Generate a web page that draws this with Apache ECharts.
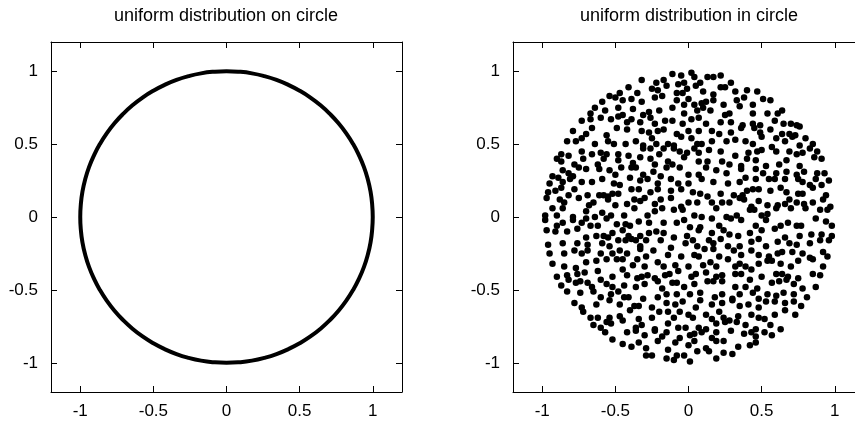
<!DOCTYPE html>
<html>
<head>
<meta charset="utf-8">
<script src="https://cdn.jsdelivr.net/npm/echarts@6/dist/echarts.min.js"></script>
<style>
  html, body { margin: 0; padding: 0; background: #fff; }
  #chart { width: 855px; height: 423px; }
</style>
</head>
<body>
<div id="chart"></div>
<script>
const titles = ['uniform distribution on circle', 'uniform distribution in circle'];
const tickValues = [-1, -0.5, 0, 0.5, 1];
const axisMin = -1.2;
const axisMax = 1.2;

// left panel: points on the unit circle, read every 5 degrees
const circlePoints = [
  [1, 0], [0.996, 0.087], [0.985, 0.174], [0.966, 0.259], [0.94, 0.342], [0.906, 0.423],
  [0.866, 0.5], [0.819, 0.574], [0.766, 0.643], [0.707, 0.707], [0.643, 0.766], [0.574, 0.819],
  [0.5, 0.866], [0.423, 0.906], [0.342, 0.94], [0.259, 0.966], [0.174, 0.985], [0.087, 0.996],
  [0, 1], [-0.087, 0.996], [-0.174, 0.985], [-0.259, 0.966], [-0.342, 0.94], [-0.423, 0.906],
  [-0.5, 0.866], [-0.574, 0.819], [-0.643, 0.766], [-0.707, 0.707], [-0.766, 0.643], [-0.819, 0.574],
  [-0.866, 0.5], [-0.906, 0.423], [-0.94, 0.342], [-0.966, 0.259], [-0.985, 0.174], [-0.996, 0.087],
  [-1, 0], [-0.996, -0.087], [-0.985, -0.174], [-0.966, -0.259], [-0.94, -0.342], [-0.906, -0.423],
  [-0.866, -0.5], [-0.819, -0.574], [-0.766, -0.643], [-0.707, -0.707], [-0.643, -0.766], [-0.574, -0.819],
  [-0.5, -0.866], [-0.423, -0.906], [-0.342, -0.94], [-0.259, -0.966], [-0.174, -0.985], [-0.087, -0.996],
  [0, -1], [0.087, -0.996], [0.174, -0.985], [0.259, -0.966], [0.342, -0.94], [0.423, -0.906],
  [0.5, -0.866], [0.574, -0.819], [0.643, -0.766], [0.707, -0.707], [0.766, -0.643], [0.819, -0.574],
  [0.866, -0.5], [0.906, -0.423], [0.94, -0.342], [0.966, -0.259], [0.985, -0.174], [0.996, -0.087],
  [1, 0]
];

// right panel: points filling the unit disc (estimated, row by row from the bottom)
const discPoints = [
  [-0.29,-0.95],[-0.25,-0.95],[-0.15,-0.97],[-0.08,-0.95],[-0.03,-0.95],[0.06,-0.92],[0.14,-0.92],[0.19,-0.97],[0.24,-0.93],[0.30,-0.94],[0.01,-0.99],[-0.10,-0.98],
  [-0.45,-0.87],[-0.39,-0.89],[-0.34,-0.86],[-0.29,-0.90],[-0.21,-0.85],[-0.14,-0.91],[-0.09,-0.86],[0.00,-0.88],[0.04,-0.85],[0.12,-0.90],[0.19,-0.85],[0.24,-0.85],[0.34,-0.89],[0.42,-0.88],[0.46,-0.86],
  [-0.57,-0.79],[-0.52,-0.84],[-0.42,-0.79],[-0.36,-0.78],[-0.30,-0.81],[-0.23,-0.78],[-0.18,-0.82],[-0.15,-0.79],[-0.06,-0.83],[0.01,-0.81],[0.04,-0.80],[0.09,-0.79],[0.16,-0.83],[0.19,-0.79],[0.29,-0.78],[0.38,-0.80],[0.43,-0.79],[0.46,-0.82],[0.52,-0.79],[0.57,-0.81],
  [-0.65,-0.74],[-0.60,-0.76],[-0.56,-0.72],[-0.53,-0.73],[-0.45,-0.71],[-0.36,-0.76],[-0.32,-0.74],[-0.23,-0.77],[-0.14,-0.73],[-0.07,-0.76],[-0.02,-0.76],[0.07,-0.76],[0.12,-0.77],[0.19,-0.73],[0.25,-0.72],[0.28,-0.71],[0.33,-0.72],[0.39,-0.74],[0.46,-0.77],[0.56,-0.74],[0.63,-0.77],
  [-0.72,-0.65],[-0.67,-0.69],[-0.62,-0.69],[-0.54,-0.69],[-0.47,-0.68],[-0.40,-0.64],[-0.34,-0.70],[-0.25,-0.69],[-0.20,-0.65],[-0.14,-0.65],[-0.10,-0.69],[-0.06,-0.65],[0.00,-0.67],[0.03,-0.69],[0.12,-0.67],[0.16,-0.70],[0.21,-0.65],[0.24,-0.69],[0.34,-0.68],[0.43,-0.67],[0.48,-0.69],[0.52,-0.70],[0.59,-0.67],[0.66,-0.64],[0.73,-0.67],
  [-0.78,-0.59],[-0.73,-0.62],[-0.63,-0.60],[-0.54,-0.57],[-0.47,-0.60],[-0.37,-0.61],[-0.34,-0.61],[-0.25,-0.62],[-0.15,-0.59],[-0.09,-0.60],[-0.04,-0.58],[0.05,-0.62],[0.08,-0.57],[0.16,-0.60],[0.23,-0.59],[0.30,-0.57],[0.35,-0.61],[0.41,-0.60],[0.48,-0.62],[0.53,-0.58],[0.59,-0.58],[0.66,-0.59],[0.72,-0.58],[0.77,-0.61],
  [-0.83,-0.51],[-0.74,-0.52],[-0.65,-0.51],[-0.60,-0.55],[-0.53,-0.53],[-0.48,-0.51],[-0.44,-0.55],[-0.41,-0.55],[-0.31,-0.56],[-0.21,-0.55],[-0.15,-0.53],[-0.08,-0.53],[0.01,-0.53],[0.08,-0.52],[0.18,-0.55],[0.23,-0.53],[0.30,-0.56],[0.35,-0.53],[0.44,-0.52],[0.48,-0.56],[0.54,-0.53],[0.60,-0.54],[0.65,-0.52],[0.72,-0.53],[0.81,-0.55],
  [-0.87,-0.47],[-0.82,-0.43],[-0.77,-0.45],[-0.74,-0.44],[-0.69,-0.45],[-0.66,-0.48],[-0.60,-0.43],[-0.56,-0.46],[-0.52,-0.48],[-0.44,-0.47],[-0.36,-0.48],[-0.30,-0.46],[-0.21,-0.44],[-0.18,-0.49],[-0.11,-0.45],[-0.08,-0.45],[-0.03,-0.48],[0.04,-0.46],[0.13,-0.44],[0.17,-0.44],[0.23,-0.44],[0.32,-0.48],[0.39,-0.48],[0.42,-0.43],[0.47,-0.49],[0.57,-0.45],[0.62,-0.44],[0.67,-0.43],[0.72,-0.46],[0.78,-0.49],[0.87,-0.48],
  [-0.90,-0.41],[-0.83,-0.40],[-0.76,-0.39],[-0.71,-0.38],[-0.62,-0.37],[-0.52,-0.41],[-0.45,-0.36],[-0.42,-0.40],[-0.35,-0.42],[-0.32,-0.41],[-0.28,-0.40],[-0.23,-0.42],[-0.16,-0.40],[-0.13,-0.39],[-0.07,-0.37],[0.02,-0.41],[0.05,-0.39],[0.12,-0.38],[0.19,-0.41],[0.23,-0.40],[0.32,-0.39],[0.36,-0.39],[0.43,-0.36],[0.50,-0.41],[0.60,-0.39],[0.64,-0.39],[0.68,-0.41],[0.75,-0.42],[0.85,-0.39],[0.90,-0.40],
  [-0.93,-0.32],[-0.85,-0.34],[-0.77,-0.35],[-0.70,-0.31],[-0.63,-0.30],[-0.56,-0.29],[-0.49,-0.29],[-0.45,-0.29],[-0.38,-0.33],[-0.35,-0.29],[-0.30,-0.34],[-0.21,-0.31],[-0.17,-0.34],[-0.09,-0.33],[0.00,-0.34],[0.10,-0.33],[0.15,-0.31],[0.19,-0.34],[0.27,-0.29],[0.32,-0.34],[0.35,-0.32],[0.39,-0.34],[0.48,-0.32],[0.54,-0.30],[0.57,-0.30],[0.63,-0.32],[0.70,-0.34],[0.75,-0.30],[0.85,-0.29],[0.92,-0.34],
  [-0.95,-0.25],[-0.85,-0.25],[-0.78,-0.23],[-0.73,-0.25],[-0.69,-0.23],[-0.60,-0.25],[-0.52,-0.25],[-0.47,-0.23],[-0.42,-0.25],[-0.33,-0.22],[-0.29,-0.27],[-0.24,-0.23],[-0.14,-0.26],[-0.05,-0.27],[0.04,-0.26],[0.07,-0.27],[0.11,-0.22],[0.17,-0.22],[0.21,-0.27],[0.31,-0.23],[0.36,-0.26],[0.43,-0.23],[0.48,-0.26],[0.55,-0.27],[0.61,-0.25],[0.64,-0.24],[0.71,-0.24],[0.78,-0.25],[0.83,-0.28],[0.92,-0.24],[0.95,-0.27],
  [-0.96,-0.19],[-0.86,-0.18],[-0.76,-0.18],[-0.69,-0.19],[-0.59,-0.18],[-0.54,-0.20],[-0.48,-0.16],[-0.43,-0.16],[-0.39,-0.15],[-0.36,-0.16],[-0.33,-0.20],[-0.29,-0.16],[-0.19,-0.16],[-0.12,-0.21],[-0.02,-0.18],[0.03,-0.16],[0.06,-0.20],[0.14,-0.16],[0.17,-0.18],[0.22,-0.15],[0.27,-0.20],[0.35,-0.20],[0.43,-0.17],[0.48,-0.15],[0.53,-0.20],[0.61,-0.17],[0.69,-0.18],[0.74,-0.19],[0.83,-0.18],[0.90,-0.16],[0.96,-0.16],
  [-0.97,-0.09],[-0.91,-0.10],[-0.83,-0.10],[-0.76,-0.08],[-0.70,-0.14],[-0.63,-0.13],[-0.58,-0.13],[-0.55,-0.14],[-0.52,-0.11],[-0.45,-0.09],[-0.41,-0.13],[-0.33,-0.13],[-0.27,-0.11],[-0.22,-0.10],[-0.17,-0.11],[-0.10,-0.14],[-0.01,-0.13],[0.07,-0.09],[0.16,-0.11],[0.24,-0.09],[0.28,-0.12],[0.34,-0.13],[0.42,-0.11],[0.50,-0.09],[0.59,-0.08],[0.66,-0.14],[0.76,-0.13],[0.84,-0.12],[0.91,-0.12],[0.98,-0.13],
  [-0.98,-0.02],[-0.90,-0.06],[-0.86,-0.04],[-0.79,-0.02],[-0.73,-0.04],[-0.70,-0.01],[-0.67,-0.06],[-0.62,-0.06],[-0.56,-0.01],[-0.49,-0.05],[-0.43,-0.05],[-0.40,-0.06],[-0.34,-0.03],[-0.27,-0.04],[-0.17,-0.04],[-0.08,-0.04],[-0.03,-0.02],[0.01,-0.07],[0.08,-0.07],[0.16,-0.01],[0.21,-0.06],[0.29,-0.01],[0.36,-0.02],[0.46,-0.06],[0.53,-0.02],[0.63,-0.06],[0.68,-0.04],[0.74,-0.06],[0.77,-0.06],[0.87,-0.01],[0.94,-0.03],[0.98,-0.06],
  [-0.98,0.01],[-0.93,0.06],[-0.90,0.01],[-0.86,0.06],[-0.79,0.00],[-0.70,0.04],[-0.64,0.00],[-0.59,0.03],[-0.53,0.01],[-0.44,0.01],[-0.37,0.06],[-0.28,0.01],[-0.23,0.04],[-0.18,0.06],[-0.10,0.05],[-0.04,0.05],[0.04,0.01],[0.09,0.00],[0.19,0.06],[0.26,0.00],[0.33,0.01],[0.42,0.05],[0.45,0.05],[0.50,0.01],[0.54,0.02],[0.60,0.06],[0.70,0.06],[0.80,0.06],[0.90,0.05],[0.95,0.05],
  [-0.97,0.13],[-0.88,0.12],[-0.85,0.10],[-0.75,0.13],[-0.68,0.08],[-0.65,0.10],[-0.55,0.12],[-0.50,0.08],[-0.42,0.09],[-0.37,0.12],[-0.33,0.11],[-0.30,0.13],[-0.23,0.09],[-0.19,0.12],[-0.12,0.13],[-0.05,0.07],[0.00,0.10],[0.06,0.10],[0.16,0.10],[0.23,0.10],[0.28,0.10],[0.35,0.13],[0.38,0.12],[0.43,0.07],[0.48,0.11],[0.54,0.08],[0.61,0.08],[0.66,0.09],[0.69,0.12],[0.74,0.10],[0.79,0.09],[0.85,0.10],[0.92,0.12],[0.97,0.07],
  [-0.96,0.17],[-0.91,0.18],[-0.87,0.20],[-0.82,0.15],[-0.78,0.19],[-0.69,0.15],[-0.61,0.15],[-0.58,0.15],[-0.55,0.14],[-0.52,0.16],[-0.48,0.16],[-0.39,0.19],[-0.34,0.19],[-0.26,0.17],[-0.21,0.19],[-0.12,0.18],[-0.05,0.19],[0.03,0.17],[0.08,0.16],[0.13,0.14],[0.22,0.16],[0.31,0.15],[0.37,0.15],[0.40,0.18],[0.44,0.19],[0.48,0.19],[0.56,0.18],[0.63,0.20],[0.67,0.17],[0.75,0.16],[0.78,0.16],[0.85,0.20],[0.94,0.15],
  [-0.95,0.23],[-0.89,0.27],[-0.86,0.24],[-0.81,0.26],[-0.73,0.24],[-0.66,0.24],[-0.59,0.26],[-0.51,0.23],[-0.47,0.22],[-0.40,0.27],[-0.33,0.25],[-0.28,0.26],[-0.21,0.23],[-0.12,0.26],[-0.07,0.23],[0.00,0.23],[0.09,0.26],[0.17,0.24],[0.27,0.23],[0.35,0.24],[0.39,0.27],[0.46,0.26],[0.55,0.26],[0.59,0.26],[0.66,0.26],[0.75,0.26],[0.78,0.24],[0.83,0.22],[0.87,0.26],[0.91,0.22],[0.96,0.25],
  [-0.93,0.28],[-0.86,0.32],[-0.82,0.30],[-0.79,0.28],[-0.75,0.34],[-0.70,0.33],[-0.61,0.33],[-0.54,0.32],[-0.50,0.29],[-0.46,0.34],[-0.39,0.34],[-0.36,0.34],[-0.31,0.29],[-0.24,0.31],[-0.19,0.28],[-0.15,0.34],[-0.06,0.34],[0.00,0.29],[0.07,0.29],[0.12,0.34],[0.19,0.32],[0.26,0.30],[0.36,0.33],[0.46,0.33],[0.51,0.30],[0.60,0.30],[0.67,0.31],[0.74,0.29],[0.79,0.31],[0.88,0.30],[0.93,0.30],
  [-0.90,0.40],[-0.87,0.38],[-0.78,0.36],[-0.72,0.40],[-0.62,0.36],[-0.58,0.40],[-0.48,0.39],[-0.38,0.37],[-0.33,0.41],[-0.26,0.40],[-0.23,0.36],[-0.14,0.38],[-0.11,0.36],[-0.03,0.41],[0.07,0.38],[0.13,0.38],[0.23,0.38],[0.28,0.36],[0.36,0.35],[0.40,0.40],[0.46,0.39],[0.53,0.35],[0.62,0.36],[0.67,0.39],[0.76,0.35],[0.86,0.41],[0.91,0.40],
  [-0.87,0.43],[-0.82,0.42],[-0.73,0.45],[-0.66,0.43],[-0.60,0.44],[-0.56,0.43],[-0.48,0.43],[-0.41,0.42],[-0.31,0.47],[-0.26,0.47],[-0.20,0.43],[-0.17,0.47],[-0.10,0.47],[-0.06,0.45],[-0.01,0.44],[0.04,0.47],[0.07,0.44],[0.14,0.46],[0.22,0.45],[0.32,0.42],[0.41,0.44],[0.47,0.45],[0.50,0.46],[0.57,0.48],[0.60,0.45],[0.69,0.45],[0.74,0.43],[0.78,0.44],[0.83,0.47],[0.88,0.45],
  [-0.83,0.52],[-0.77,0.52],[-0.73,0.54],[-0.64,0.50],[-0.55,0.52],[-0.51,0.50],[-0.43,0.50],[-0.36,0.52],[-0.31,0.49],[-0.25,0.54],[-0.22,0.50],[-0.14,0.50],[-0.10,0.49],[-0.05,0.55],[0.02,0.54],[0.06,0.50],[0.09,0.50],[0.16,0.52],[0.26,0.52],[0.32,0.53],[0.39,0.52],[0.44,0.50],[0.50,0.55],[0.60,0.54],[0.66,0.52],[0.71,0.55],[0.76,0.49],[0.80,0.54],[0.85,0.50],
  [-0.79,0.59],[-0.70,0.57],[-0.66,0.61],[-0.56,0.56],[-0.49,0.61],[-0.42,0.60],[-0.32,0.59],[-0.27,0.58],[-0.21,0.59],[-0.17,0.60],[-0.08,0.57],[0.00,0.59],[0.07,0.59],[0.16,0.59],[0.21,0.57],[0.29,0.58],[0.36,0.61],[0.45,0.61],[0.49,0.58],[0.56,0.60],[0.64,0.57],[0.69,0.57],[0.73,0.56],[0.76,0.62],
  [-0.73,0.66],[-0.67,0.67],[-0.60,0.68],[-0.53,0.67],[-0.48,0.69],[-0.42,0.65],[-0.39,0.67],[-0.33,0.65],[-0.26,0.68],[-0.23,0.64],[-0.16,0.66],[-0.11,0.66],[-0.04,0.64],[0.02,0.67],[0.07,0.68],[0.12,0.64],[0.22,0.65],[0.29,0.65],[0.37,0.63],[0.44,0.64],[0.49,0.63],[0.59,0.66],[0.65,0.64],[0.70,0.64],[0.74,0.63],
  [-0.67,0.71],[-0.64,0.75],[-0.57,0.73],[-0.48,0.75],[-0.45,0.70],[-0.38,0.74],[-0.31,0.70],[-0.27,0.72],[-0.20,0.73],[-0.11,0.75],[-0.03,0.71],[0.06,0.73],[0.10,0.75],[0.15,0.73],[0.25,0.70],[0.28,0.71],[0.35,0.76],[0.44,0.71],[0.54,0.71],[0.61,0.71],[0.64,0.73],
  [-0.59,0.79],[-0.54,0.83],[-0.50,0.82],[-0.45,0.80],[-0.39,0.81],[-0.32,0.79],[-0.23,0.82],[-0.18,0.83],[-0.08,0.80],[-0.03,0.77],[0.00,0.81],[0.04,0.77],[0.09,0.78],[0.12,0.79],[0.17,0.80],[0.24,0.77],[0.33,0.80],[0.38,0.82],[0.44,0.77],[0.51,0.81],[0.56,0.80],
  [-0.47,0.85],[-0.41,0.89],[-0.35,0.85],[-0.25,0.88],[-0.21,0.87],[-0.15,0.90],[-0.08,0.85],[-0.04,0.85],[-0.01,0.88],[0.05,0.90],[0.10,0.86],[0.17,0.84],[0.22,0.89],[0.25,0.89],[0.32,0.86],[0.40,0.87],[0.47,0.86],
  [-0.32,0.94],[-0.22,0.92],[-0.17,0.94],[-0.07,0.91],[-0.03,0.92],[0.04,0.96],[0.08,0.92],[0.13,0.96],[0.17,0.96],[0.22,0.97],[0.29,0.92],[-0.11,0.98],[0.02,0.99],[-0.05,0.97]
];

const fontFamily = '"Liberation Sans", Arial, sans-serif';
const chart = echarts.init(document.getElementById('chart'));

function makeAxis(gridIndex, position, showLabel, labelMargin) {
  return {
    type: 'value',
    gridIndex: gridIndex,
    position: position,
    min: axisMin,
    max: axisMax,
    splitLine: { show: false },
    axisLine: {
      show: true,
      onZero: false,
      lineStyle: { color: '#000', width: 1 },
    },
    axisTick: {
      show: true,
      inside: true,
      length: 6,
      customValues: tickValues,
      lineStyle: { color: '#000', width: 1 },
    },
    axisLabel: {
      show: showLabel,
      customValues: tickValues,
      margin: labelMargin,
      color: '#000',
      fontSize: 17,
      fontFamily: fontFamily,
    },
  };
}

const option = {
  animation: false,
  backgroundColor: '#fff',
  title: titles.map((text, i) => ({
    text: text,
    left: i === 0 ? 226 : 689,
    top: 7,
    textAlign: 'center',
    padding: 0,
    textStyle: { color: '#000', fontSize: 18, fontWeight: 'normal', fontFamily: fontFamily },
  })),
  // the right panel runs past the edge of the picture, as in the original
  grid: [
    { left: 51, top: 42, width: 351, height: 350, outerBoundsMode: 'none' },
    { left: 513, top: 42, width: 351, height: 350, outerBoundsMode: 'none' },
  ],
  xAxis: [
    makeAxis(0, 'bottom', true, 11),
    makeAxis(0, 'top', false, 8),
    makeAxis(1, 'bottom', true, 11),
    makeAxis(1, 'top', false, 8),
  ],
  yAxis: [
    makeAxis(0, 'left', true, 13),
    makeAxis(0, 'right', false, 8),
    makeAxis(1, 'left', true, 13),
    makeAxis(1, 'right', false, 8),
  ],
  series: [
    {
      type: 'line',
      xAxisIndex: 0,
      yAxisIndex: 0,
      data: circlePoints,
      showSymbol: false,
      smooth: true,
      silent: true,
      lineStyle: { color: '#000', width: 4 },
    },
    {
      type: 'scatter',
      xAxisIndex: 2,
      yAxisIndex: 2,
      data: discPoints,
      symbol: 'circle',
      symbolSize: 6.5,
      silent: true,
      itemStyle: { color: '#000', opacity: 1 },
    },
  ],
};
chart.setOption(option);
</script>
</body>
</html>
